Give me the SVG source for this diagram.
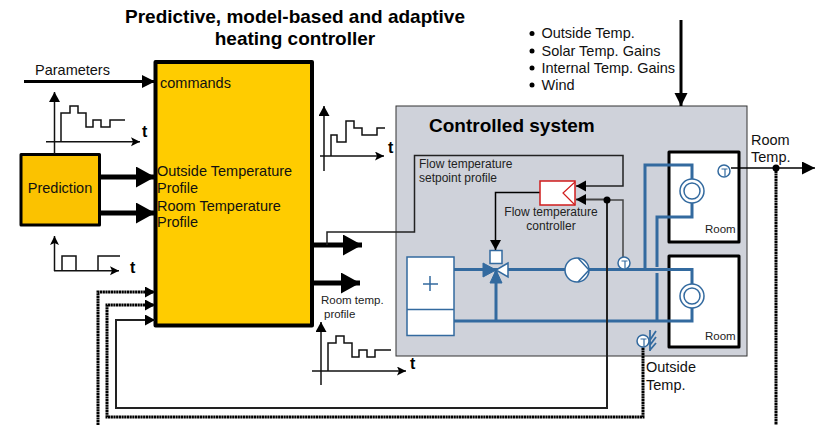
<svg xmlns="http://www.w3.org/2000/svg" width="815" height="425" viewBox="0 0 815 425">
<style>
text{font-family:"Liberation Sans",Arial,sans-serif;font-size:14.5px;fill:#111}
.b{font-weight:bold;font-size:19px;fill:#000}
.s{font-size:12px;fill:#222}
.xs{font-size:11.5px;fill:#222}
.t{font-weight:bold;font-size:16px;fill:#000}
.yb{fill:#ffcc00;stroke:#000;stroke-width:4;stroke-linejoin:round}
.pipe{fill:none;stroke:#336a9f;stroke-width:3}
.blue{fill:#fff;stroke:#336a9f;stroke-width:1.5}
.room{fill:#fff;stroke:#000;stroke-width:3;stroke-linejoin:round}
.l{fill:none;stroke:#000;stroke-width:1.5}
.ax{fill:none;stroke:#111;stroke-width:1.5}
.st{fill:none;stroke:#111;stroke-width:1.5}
.gr{fill:none;stroke:#444;stroke-width:1.5}
.dot{fill:none;stroke:#000;stroke-width:3;stroke-dasharray:2.2 .5}
.th{fill:none;stroke:#000;stroke-width:5}
</style>
<defs>
<marker id="big" markerUnits="userSpaceOnUse" markerWidth="20" markerHeight="22" refX="19" refY="10.5" orient="auto"><path d="M0 0L19 10.5L0 21Z"/></marker>
<marker id="mid" markerUnits="userSpaceOnUse" markerWidth="14" markerHeight="14" refX="13" refY="6.5" orient="auto"><path d="M0 0L13 6.5L0 13Z"/></marker>
<marker id="sm" markerUnits="userSpaceOnUse" markerWidth="10" markerHeight="10" refX="9" refY="4.5" orient="auto"><path d="M0 0L9 4.5L0 9L2 4.5Z" fill="#000"/></marker>
<marker id="tri" markerUnits="userSpaceOnUse" markerWidth="12" markerHeight="12" refX="10" refY="5.5" orient="auto"><path d="M0 0L10 5.500L0 11Z"/></marker>
<g id="sens"><circle r="6" fill="#fff" stroke="#336a9f" stroke-width="1.5"/><path d="M-2.500 -2H3.500M1 -2V5" fill="none" stroke="#336a9f" stroke-width="1.200"/></g>
</defs>

<rect width="815" height="425" fill="#fff"/>

<g id="title">
<text class="b" x="295" y="23" text-anchor="middle">Predictive, model-based and adaptive</text>
<text class="b" x="295" y="45" text-anchor="middle">heating controller</text>
</g>

<g id="controlled-system">
<rect x="396" y="106" width="351" height="250" fill="#cfd2da" stroke="#333" stroke-width="1"/>
<text class="b" x="429" y="132">Controlled system</text>
</g>

<g id="room-1"><rect class="room" x="669" y="152" width="70" height="90"/><text class="xs" x="705" y="233">Room</text></g>
<g id="room-2"><rect class="room" x="669" y="256" width="70" height="91"/><text class="xs" x="705" y="340">Room</text></g>

<g id="pipes">
<path class="pipe" d="M454 269.500H692V284M454 321H692V308"/>
<path class="pipe" d="M645 269.500V165H692V179M692 203V217H657V267M657 273V321"/>
<path class="pipe" d="M496 270V321"/>
</g>

<g id="boiler"><rect class="blue" x="407" y="257" width="47" height="78.500"/><path d="M407 309.500H454" class="blue"/><path d="M430 276V291M423 284H438" fill="none" stroke="#336a9f" stroke-width="1.500"/></g>
<g id="valve">
<path d="M483 263L496 270L483 277Z" fill="#336a9f" stroke="#336a9f"/>
<path d="M508 263L496 270L508 277Z" class="blue"/>
<path d="M490 283L496 270L502 283Z" fill="#336a9f" stroke="#336a9f"/>
<rect class="blue" x="490" y="250.500" width="12" height="13"/>
</g>
<g id="pump"><circle class="blue" cx="577" cy="270" r="12"/><path d="M578 258L589 270L578 282" fill="none" stroke="#336a9f" stroke-width="1.500"/></g>
<g id="radiator-1"><circle class="blue" cx="692" cy="191" r="12"/><circle class="blue" cx="692" cy="191" r="8"/></g>
<g id="radiator-2"><circle class="blue" cx="692" cy="296" r="12"/><circle class="blue" cx="692" cy="296" r="8"/></g>

<g id="predictive-controller">
<rect class="yb" x="155.500" y="62" width="156.500" height="263.500"/>
<text x="160" y="88">commands</text>
<text x="157" y="176">Outside Temperature</text>
<text x="157" y="193">Profile</text>
<text x="157" y="211">Room Temperature</text>
<text x="157" y="227">Profile</text>
</g>

<g id="prediction">
<rect class="yb" style="fill:#fbc200;stroke-width:3" x="21" y="154.500" width="78.500" height="70.500"/>
<text x="60" y="193" text-anchor="middle">Prediction</text>
</g>

<g id="connectors">
<path class="l" style="stroke-width:3" d="M24 81.500H155" marker-end="url(#mid)"/>
<path class="th" d="M100 177H155" marker-end="url(#big)"/>
<path class="th" d="M100 213H155" marker-end="url(#big)"/>
<path class="th" d="M313 245H362" marker-end="url(#big)"/>
<path class="th" d="M313 283H360" marker-end="url(#big)"/>
<path class="l" style="stroke-width:3" d="M681 20V106" marker-end="url(#mid)"/>
<path class="l" d="M327 245V232H414.500V155.500H623V186H576" style="stroke:#222" marker-end="url(#tri)"/>
<path class="gr" style="stroke-width:2" d="M607 199.500H576" marker-end="url(#tri)"/>
<path class="gr" d="M607 200H623V257"/>
<path class="l" d="M540 192.500H495.500V250" marker-end="url(#tri)"/>
<path class="l" d="M731 168H815" marker-end="url(#mid)"/>
<path class="l" style="stroke:#222;stroke-width:2" d="M607 200V408H116V320H155" marker-end="url(#tri)"/>
<path class="dot" d="M643 345V417H107V305H155" marker-end="url(#tri)"/>
<path class="dot" d="M98 425V292H155" marker-end="url(#tri)"/>
<path class="dot" d="M776 168V425"/>
<circle cx="776" cy="168" r="3.500"/>
<circle cx="607" cy="200" r="3.500"/>
</g>

<g id="sensors">
<use href="#sens" x="624" y="263"/>
<use href="#sens" x="724" y="171"/>
<use href="#sens" x="643" y="341"/>
<path d="M650 330V351M650 340L656 331M650 345L656 337M650 350L656 343" fill="none" stroke="#336a9f" stroke-width="1.800"/>
</g>

<g id="flow-controller">
<rect x="540" y="181" width="35" height="24" fill="#fff" stroke="#d01c1c" stroke-width="1.500"/>
<path d="M575 182L563 193L575 205" fill="none" stroke="#d01c1c" stroke-width="1.200"/>
<text class="s" x="551" y="216" text-anchor="middle">Flow temperature</text>
<text class="s" x="551" y="230" text-anchor="middle">controller</text>
</g>

<g id="labels">
<text x="35" y="75">Parameters</text>
<text class="s" x="419" y="168">Flow temperature</text>
<text class="s" x="419" y="182">setpoint profile</text>
<text x="751" y="145">Room</text>
<text x="751" y="162">Temp.</text>
<text x="646" y="372">Outside</text>
<text x="646" y="390">Temp.</text>
<text class="xs" x="321" y="304">Room temp.</text>
<text class="xs" x="324" y="318">profile</text>
</g>

<g id="disturbances">
<circle cx="532" cy="33.500" r="2.500"/><circle cx="532" cy="51" r="2.500"/><circle cx="532" cy="68" r="2.500"/><circle cx="532" cy="85" r="2.500"/>
<text x="541.500" y="38">Outside Temp.</text>
<text x="541.500" y="56">Solar Temp. Gains</text>
<text x="541.500" y="73">Internal Temp. Gains</text>
<text x="541.500" y="90">Wind</text>
</g>

<g id="graph-1">
<path class="ax" d="M54.500 154V92" marker-end="url(#tri)"/>
<path class="ax" d="M46 141.700H140" marker-end="url(#sm)"/>
<path class="st" d="M61 141.700V113H70V106H78V113H86V127H93V120H101V127H110V120H125"/>
<text class="t" x="142" y="137">t</text>
</g>
<g id="graph-2">
<path class="ax" d="M324 171V106" marker-end="url(#tri)"/>
<path class="ax" d="M320 156H384" marker-end="url(#sm)"/>
<path class="st" d="M331 156V135H337V142H346V121H354V128H362V135H377V128H385"/>
<text class="t" x="388" y="153">t</text>
</g>
<g id="graph-3">
<path class="ax" d="M54.500 271V236" marker-end="url(#sm)"/>
<path class="ax" d="M54 270.700H119" marker-end="url(#sm)"/>
<path class="st" d="M62 270.700V256H76V270.700M98 270.700V256H120"/>
<text class="t" x="130" y="273">t</text>
</g>
<g id="graph-4">
<path class="ax" d="M321 385V322" marker-end="url(#tri)"/>
<path class="ax" d="M312 371H406" marker-end="url(#sm)"/>
<path class="st" d="M328 371V343H336V336H344V343H352V357H359V350H367V357H375V350H391"/>
<text class="t" x="410" y="369">t</text>
</g>
</svg>
